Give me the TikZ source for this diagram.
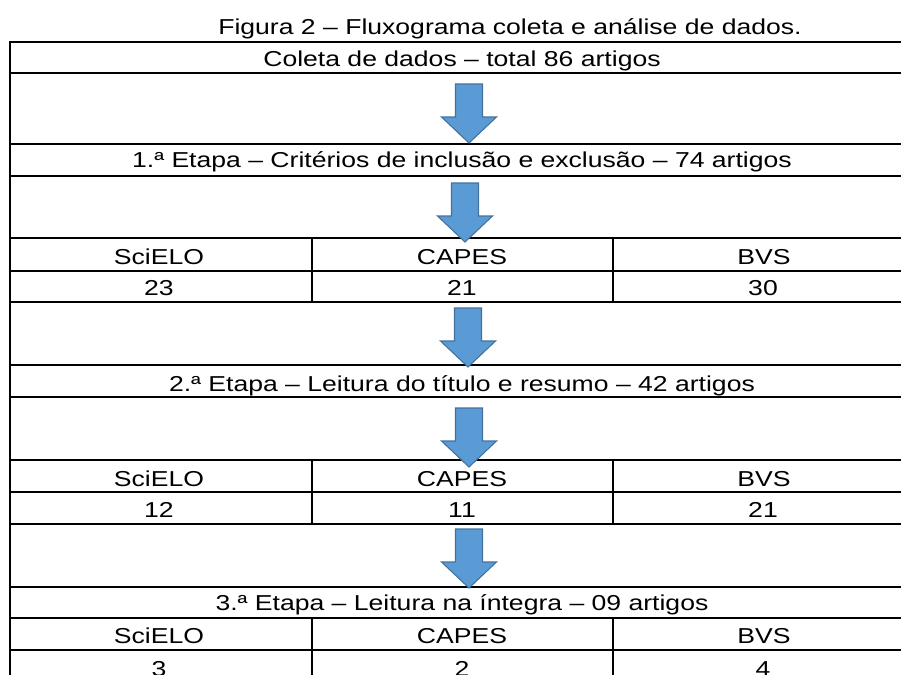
\documentclass[tikz,border=0pt]{standalone}
\usepackage{fontspec}
\setmainfont{Liberation Sans}[FakeStretch=1.23]
\begin{document}
\begin{tikzpicture}[x=0.75pt,y=-0.75pt,
  rule/.style={line width=1.4pt,black},
  txt/.style={anchor=base,inner sep=0pt,font=\fontsize{16.2}{19}\selectfont},
  blockarrow/.pic={\draw[fill={rgb,255:red,91;green,155;blue,213},draw={rgb,255:red,65;green,113;blue,156},line width=0.8pt,line join=miter]
     (-13.5,0) -- (13.5,0) -- (13.5,33) -- (27.5,33) -- (0,59) -- (-27.5,33) -- (-13.5,33) -- cycle;}]
\useasboundingbox (0,0) rectangle (901,675);
% horizontal rules
\foreach \yy in {42,73,144,176,238,271,302,365,397,460,492,524,587,618,650}
  \draw[rule] (10,\yy) -- (905,\yy);
% left border
\draw[rule] (10,41.3) -- (10,680);
% column dividers
\foreach \ya/\yb in {238/302,460/524,618/680}{
  \draw[rule] (312,\ya) -- (312,\yb);
  \draw[rule] (613,\ya) -- (613,\yb);
}
% arrows
\pic at (469,84) {blockarrow};
\pic at (465,183) {blockarrow};
\pic at (468,308) {blockarrow};
\pic at (469,408) {blockarrow};
\pic at (469,529) {blockarrow};
% texts
\node[txt] (title) at (510,34) {Figura 2 – Fluxograma coleta e análise de dados.};
\node[txt] (r0) at (462,66) {Coleta de dados – total 86 artigos};
\node[txt] (r1) at (462,167) {1.ª Etapa – Critérios de inclusão e exclusão – 74 artigos};
\node[txt] (s1a) at (159,264) {SciELO};
\node[txt] (s1b) at (462,264) {CAPES};
\node[txt] (s1c) at (764,264) {BVS};
\node[txt] (n1a) at (159,295) {23};
\node[txt] (n1b) at (462,295) {21};
\node[txt] (n1c) at (763,295) {30};
\node[txt] (r2) at (462,391) {2.ª Etapa – Leitura do título e resumo – 42 artigos};
\node[txt] (s2a) at (159,486) {SciELO};
\node[txt] (s2b) at (462,486) {CAPES};
\node[txt] (s2c) at (764,486) {BVS};
\node[txt] (n2a) at (159,517) {12};
\node[txt] (n2b) at (462,517) {11};
\node[txt] (n2c) at (763,517) {21};
\node[txt] (r3) at (462,610) {3.ª Etapa – Leitura na íntegra – 09 artigos};
\node[txt] (s3a) at (159,643) {SciELO};
\node[txt] (s3b) at (462,643) {CAPES};
\node[txt] (s3c) at (764,643) {BVS};
\node[txt] (n3a) at (159,676) {3};
\node[txt] (n3b) at (462,676) {2};
\node[txt] (n3c) at (763,676) {4};
\end{tikzpicture}
\end{document}
